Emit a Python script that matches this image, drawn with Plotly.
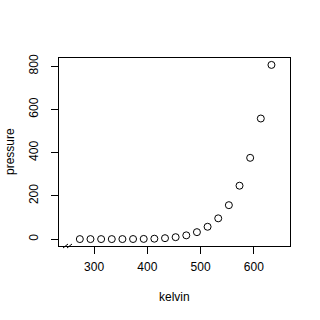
import plotly.graph_objects as go

kelvin = [273.15, 293.15, 313.15, 333.15, 353.15, 373.15, 393.15, 413.15, 433.15, 453.15,
          473.15, 493.15, 513.15, 533.15, 553.15, 573.15, 593.15, 613.15, 633.15]
pressure = [0.0002, 0.0012, 0.006, 0.03, 0.09, 0.27, 0.75, 1.85, 4.2, 8.8,
            17.3, 32.1, 57.0, 96.0, 157.0, 247.0, 376.0, 558.0, 806.0]
x_ticks = [300, 400, 500, 600]
y_ticks = [0, 200, 400, 600, 800]

fig = go.Figure(go.Scatter(
    x=kelvin, y=pressure, mode="markers",
    marker=dict(symbol="circle-open", size=7, color="black", line=dict(width=1, color="black")),
))

W, H = 320, 320
L, R, T, B = 59, 30, 58, 74
font = dict(family="Liberation Sans, Arial, sans-serif", size=12, color="black")

fig.update_layout(
    width=W, height=H, margin=dict(l=L, r=R, t=T, b=B),
    paper_bgcolor="white", plot_bgcolor="white", showlegend=False, font=font,
    xaxis=dict(range=[234, 668], tickvals=x_ticks, ticks="outside", ticklen=7, tickwidth=1,
               tickcolor="black", showgrid=False, zeroline=False, showline=True, linecolor="black",
               linewidth=1, mirror=True, tickfont=font, ticklabelstandoff=3),
    yaxis=dict(range=[-32, 838], tickvals=y_ticks, ticks="outside", ticklen=7, tickwidth=1,
               tickcolor="black", showgrid=False, zeroline=False, showline=True, linecolor="black",
               linewidth=1, mirror=True, tickangle=-90, tickfont=font, ticklabelstandoff=8),
    annotations=[
        dict(text="kelvin", xref="paper", yref="paper", x=0.5, y=-51/188, showarrow=False,
             xanchor="center", yanchor="middle", font=font),
        dict(text="pressure", xref="paper", yref="paper", x=-49/231, y=0.5, showarrow=False,
             textangle=-90, xanchor="center", yanchor="middle", font=font),
    ],
)

# axis break marks "//" near lower-left corner
pw, ph = W - L - R, H - T - B
def px(xp, yp):
    return (xp - L) / pw, (H - B - yp) / ph
shapes = []
for x0 in (63, 67):
    a = px(x0, 248)
    b = px(x0 + 5, 244)
    shapes.append(dict(type="line", xref="paper", yref="paper", x0=a[0], y0=a[1], x1=b[0], y1=b[1],
                       line=dict(color="black", width=1)))
fig.update_layout(shapes=shapes)

fig.write_html("out.html")
